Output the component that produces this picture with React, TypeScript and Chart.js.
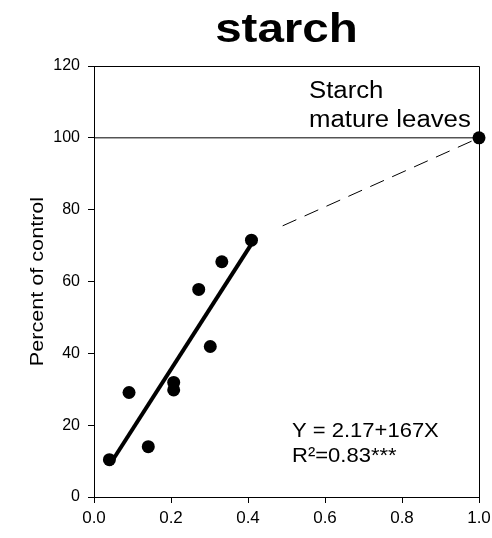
import React, { useEffect, useRef } from "react";
import { Chart, registerables } from "chart.js";

Chart.register(...registerables);

const pointX = [0.04, 0.091, 0.141, 0.207, 0.207, 0.272, 0.302, 0.332, 0.409, 1.0];
const pointY = [10.4, 29.1, 14.0, 31.9, 29.8, 57.8, 41.9, 65.5, 71.5, 100];
const fitX = [0.04, 0.41];
const fitY = [8.85, 70.6];
const dashX = [0.49, 1.0];
const dashY = [75.5, 100];
const refX = [0, 1];
const refY = [100, 100];
const xTicks = [0, 0.2, 0.4, 0.6, 0.8, 1.0];
const yTicks = [0, 20, 40, 60, 80, 100, 120];

const FONT = "'Liberation Sans', Arial, sans-serif";

const toXY = (xs: number[], ys: number[]) => xs.map((x, i) => ({ x, y: ys[i] }));

const stretchText = (ctx: any, text: string, x: number, y: number, sx: number) => {
  ctx.save();
  ctx.translate(x, y);
  ctx.scale(sx, 1);
  ctx.fillText(text, 0, 0);
  ctx.restore();
};

const textPlugin = {
  id: "texts",
  afterDraw(chart: any) {
    const ctx = chart.ctx;
    const a = chart.chartArea;
    ctx.save();
    ctx.strokeStyle = "#000";
    ctx.lineWidth = 1;
    ctx.beginPath();
    ctx.moveTo(a.left, a.top + 0.5);
    ctx.lineTo(a.right + 0.5, a.top + 0.5);
    ctx.lineTo(a.right + 0.5, a.bottom);
    ctx.stroke();
    ctx.fillStyle = "#000";
    ctx.textBaseline = "alphabetic";
    ctx.font = `bold 41px ${FONT}`;
    ctx.textAlign = "center";
    stretchText(ctx, "starch", (a.left + a.right) / 2, 42, 1.16);
    ctx.textAlign = "left";
    ctx.font = `23px ${FONT}`;
    stretchText(ctx, "Starch", a.left + 215, 98, 1.12);
    stretchText(ctx, "mature leaves", a.left + 215, 127, 1.12);
    ctx.font = `20px ${FONT}`;
    stretchText(ctx, "Y = 2.17+167X", a.left + 198, 437, 1.1);
    stretchText(ctx, "R\u00B2=0.83***", a.left + 198, 462, 1.1);
    ctx.save();
    ctx.translate(38, (a.top + a.bottom) / 2);
    ctx.rotate(-Math.PI / 2);
    ctx.textAlign = "center";
    ctx.textBaseline = "middle";
    ctx.font = `18px ${FONT}`;
    ctx.scale(1.2, 1);
    ctx.fillText("Percent of control", 0, 0);
    ctx.restore();
    ctx.restore();
  },
};

export default function App() {
  const ref = useRef<HTMLCanvasElement>(null);
  useEffect(() => {
    document.body.style.margin = "0";
    const chart = new Chart(ref.current!, {
      type: "scatter",
      data: {
        datasets: [
          { data: toXY(refX, refY), showLine: true, borderColor: "#000", borderWidth: 1, pointRadius: 0, clip: false },
          { data: toXY(dashX, dashY), showLine: true, borderColor: "#000", borderWidth: 1, borderDash: [15, 9], pointRadius: 0, clip: false },
          { data: toXY(fitX, fitY), showLine: true, borderColor: "#000", borderWidth: 4, pointRadius: 0, clip: false },
          { data: toXY(pointX, pointY), pointRadius: 6.5, backgroundColor: "#000", borderColor: "#000", borderWidth: 0, clip: false },
        ],
      },
      options: {
        animation: false,
        responsive: false,
        layout: { padding: { top: 66, right: 13, left: 0, bottom: 0 } },
        plugins: { legend: { display: false }, tooltip: { enabled: false }, title: { display: false } },
        scales: {
          x: {
            type: "linear",
            min: 0,
            max: 1,
            afterBuildTicks: (s: any) => {
              s.ticks = xTicks.map((v) => ({ value: v }));
            },
            afterFit: (s: any) => {
              s.height = 41;
              s.paddingLeft = 0;
              s.paddingRight = 0;
            },
            grid: { drawOnChartArea: false, drawTicks: true, tickLength: 6, color: "#000" },
            border: { display: true, color: "#000" },
            ticks: {
              color: "#000",
              font: { family: FONT, size: 17 },
              padding: 5,
              maxRotation: 0,
              callback: (v: any) => Number(v).toFixed(1),
            },
          },
          y: {
            type: "linear",
            min: 0,
            max: 120,
            afterBuildTicks: (s: any) => {
              s.ticks = yTicks.map((v) => ({ value: v }));
            },
            afterFit: (s: any) => {
              s.width = 94;
              s.paddingTop = 0;
              s.paddingBottom = 0;
            },
            grid: { drawOnChartArea: false, drawTicks: true, tickLength: 6, color: "#000" },
            border: { display: true, color: "#000" },
            ticks: { color: "#000", font: { family: FONT, size: 16 }, padding: 8 },
          },
        },
      },
      plugins: [textPlugin],
    });
    return () => chart.destroy();
  }, []);
  return (
    <div style={{ position: "absolute", left: 0, top: 0, width: 492, height: 538 }}>
      <canvas ref={ref} width={492} height={538} style={{ width: 492, height: 538 }} />
    </div>
  );
}
